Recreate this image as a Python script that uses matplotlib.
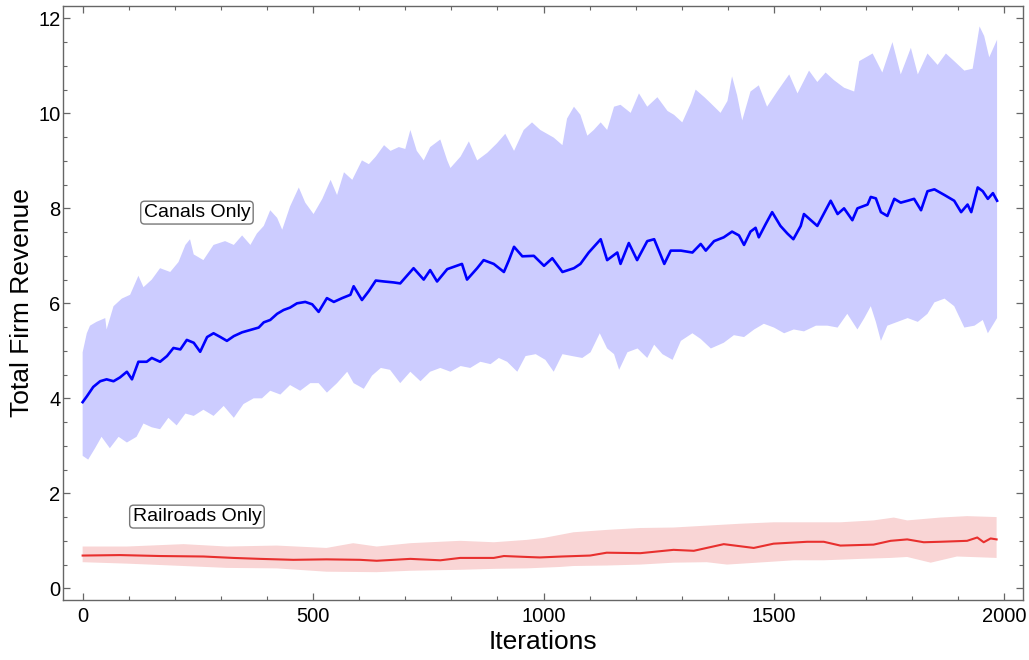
import numpy as np
import matplotlib
matplotlib.use("Agg")
import matplotlib.pyplot as plt
from matplotlib.ticker import MultipleLocator

# ---------------- data ----------------
canal_mean_x = [0, 9, 23, 38, 52, 67, 81, 96, 107, 121, 139, 150, 168, 183, 197, 212, 226, 241, 255, 270,
                284, 299, 313, 328, 346, 364, 382, 393, 407, 422, 436, 450, 465, 483, 498, 512, 530, 545, 563, 581,
                588, 606, 621, 636, 654, 675, 689, 718, 740, 754, 769, 791, 823, 834, 856, 870, 892, 914, 925, 936,
                954, 979, 1001, 1019, 1041, 1066, 1080, 1098, 1124, 1138, 1160, 1167, 1185, 1203, 1225, 1240, 1262, 1276, 1298, 1323,
                1341, 1352, 1370, 1391, 1409, 1424, 1435, 1449, 1460, 1467, 1482, 1496, 1514, 1529, 1542, 1558, 1565, 1580, 1594, 1612,
                1623, 1638, 1652, 1670, 1681, 1703, 1710, 1721, 1732, 1746, 1761, 1775, 1790, 1804, 1819, 1833, 1848, 1870, 1891, 1906,
                1920, 1928, 1942, 1953, 1964, 1975, 1984]
canal_mean_y = [3.92, 4.04, 4.24, 4.36, 4.40, 4.36, 4.44, 4.56, 4.40, 4.77, 4.77, 4.85, 4.77, 4.89, 5.06, 5.03, 5.23, 5.17, 4.98, 5.29,
                5.37, 5.29, 5.21, 5.31, 5.39, 5.44, 5.49, 5.60, 5.65, 5.78, 5.86, 5.91, 6.00, 6.03, 5.98, 5.82, 6.11, 6.03, 6.11, 6.18,
                6.36, 6.07, 6.26, 6.48, 6.46, 6.44, 6.42, 6.74, 6.50, 6.70, 6.46, 6.72, 6.83, 6.50, 6.74, 6.91, 6.83, 6.66, 6.91, 7.19,
                6.99, 7.00, 6.79, 6.95, 6.66, 6.74, 6.83, 7.07, 7.35, 6.91, 7.07, 6.83, 7.27, 6.91, 7.31, 7.35, 6.83, 7.11, 7.11, 7.07,
                7.25, 7.11, 7.31, 7.39, 7.51, 7.43, 7.23, 7.51, 7.59, 7.39, 7.67, 7.92, 7.63, 7.47, 7.35, 7.63, 7.88, 7.75, 7.63, 7.96,
                8.16, 7.88, 8.00, 7.75, 8.00, 8.08, 8.24, 8.21, 7.92, 7.84, 8.20, 8.12, 8.16, 8.20, 7.96, 8.36, 8.40, 8.28, 8.16, 7.92,
                8.08, 7.92, 8.44, 8.36, 8.20, 8.32, 8.16]

canal_upper_x = [0, 9, 16, 30, 49, 52, 67, 85, 103, 121, 132, 150, 168, 190, 208, 223, 233, 241, 262, 284,
                 309, 328, 346, 364, 378, 393, 407, 422, 433, 450, 469, 483, 501, 520, 538, 552, 567, 585, 606, 621,
                 636, 654, 668, 686, 700, 711, 725, 740, 754, 776, 791, 798, 820, 838, 856, 878, 899, 917, 936, 957,
                 975, 993, 1022, 1041, 1051, 1066, 1080, 1095, 1109, 1124, 1138, 1153, 1167, 1189, 1207, 1225, 1247, 1269, 1283, 1301,
                 1320, 1330, 1349, 1362, 1384, 1399, 1409, 1420, 1431, 1449, 1467, 1485, 1507, 1533, 1551, 1576, 1594, 1612, 1630, 1652,
                 1674, 1685, 1714, 1735, 1757, 1775, 1797, 1812, 1833, 1855, 1873, 1891, 1913, 1931, 1946, 1956, 1967, 1984]
canal_upper_y = [4.97, 5.37, 5.53, 5.61, 5.69, 5.45, 5.94, 6.10, 6.18, 6.58, 6.34, 6.50, 6.74, 6.66, 6.87, 7.23, 7.35, 7.03, 6.91, 7.23,
                 7.31, 7.23, 7.43, 7.23, 7.47, 7.63, 7.96, 7.80, 7.55, 8.04, 8.44, 8.12, 7.88, 8.20, 8.60, 8.28, 8.76, 8.60, 9.01, 8.93,
                 9.09, 9.33, 9.21, 9.29, 9.25, 9.65, 9.21, 9.01, 9.29, 9.45, 9.01, 8.85, 9.09, 9.41, 9.01, 9.17, 9.37, 9.57, 9.21, 9.65,
                 9.81, 9.65, 9.49, 9.33, 9.89, 10.14, 9.97, 9.53, 9.65, 9.81, 9.65, 10.14, 10.18, 10.01, 10.42, 10.14, 10.34, 10.05, 9.97, 9.81,
                 10.22, 10.50, 10.34, 10.22, 10.01, 10.26, 10.78, 10.38, 9.85, 10.46, 10.59, 10.14, 10.46, 10.82, 10.42, 10.90, 10.66, 10.86, 10.70, 10.54,
                 10.46, 11.10, 11.26, 10.86, 11.50, 10.82, 11.38, 10.82, 11.26, 11.02, 11.26, 11.10, 10.90, 10.94, 11.83, 11.63, 11.18, 11.55]

canal_lower_x = [0, 12, 27, 41, 59, 78, 96, 117, 132, 150, 168, 186, 204, 223, 241, 262, 284, 306, 328, 349,
                 371, 389, 407, 429, 450, 472, 494, 512, 530, 552, 574, 588, 610, 628, 647, 667, 689, 711, 733, 754,
                 776, 798, 820, 841, 863, 885, 903, 921, 943, 961, 983, 1004, 1022, 1041, 1062, 1084, 1102, 1122, 1138, 1153,
                 1164, 1182, 1204, 1225, 1240, 1258, 1280, 1298, 1323, 1341, 1363, 1391, 1413, 1435, 1457, 1478, 1500, 1522, 1543, 1565,
                 1591, 1616, 1638, 1659, 1681, 1696, 1710, 1721, 1732, 1746, 1768, 1790, 1812, 1833, 1848, 1870, 1891, 1913, 1935, 1953,
                 1964, 1984]
canal_lower_y = [2.79, 2.71, 2.95, 3.19, 2.95, 3.19, 3.07, 3.19, 3.47, 3.39, 3.35, 3.59, 3.43, 3.68, 3.63, 3.76, 3.63, 3.84, 3.59, 3.88,
                 4.00, 4.00, 4.16, 4.08, 4.28, 4.16, 4.32, 4.32, 4.12, 4.32, 4.56, 4.32, 4.20, 4.48, 4.64, 4.60, 4.32, 4.56, 4.36, 4.56,
                 4.64, 4.56, 4.68, 4.64, 4.77, 4.72, 4.85, 4.77, 4.56, 4.89, 4.93, 4.81, 4.56, 4.93, 4.89, 4.85, 4.97, 5.37, 5.05, 4.93,
                 4.60, 4.97, 5.05, 4.85, 5.13, 4.93, 4.81, 5.21, 5.37, 5.25, 5.05, 5.17, 5.33, 5.29, 5.45, 5.57, 5.49, 5.37, 5.45, 5.41,
                 5.53, 5.53, 5.49, 5.78, 5.45, 5.69, 5.94, 5.61, 5.21, 5.53, 5.61, 5.69, 5.61, 5.78, 6.02, 6.10, 5.94, 5.49, 5.53, 5.65,
                 5.37, 5.69]

rail_mean_x = [0, 81, 168, 262, 327, 385, 457, 529, 602, 638, 711, 776, 819, 892, 914, 964, 992, 1040, 1101, 1137,
               1210, 1282, 1326, 1391, 1456, 1499, 1572, 1608, 1644, 1716, 1753, 1789, 1825, 1861, 1919, 1941, 1955, 1970, 1983]
rail_mean_y = [0.69, 0.70, 0.68, 0.67, 0.64, 0.62, 0.60, 0.61, 0.60, 0.58, 0.62, 0.59, 0.64, 0.64, 0.68, 0.66, 0.65, 0.67, 0.69, 0.75,
               0.74, 0.81, 0.79, 0.93, 0.85, 0.94, 0.98, 0.98, 0.90, 0.92, 1.00, 1.03, 0.97, 0.98, 1.00, 1.07, 0.97, 1.05, 1.03]

rail_upper_x = [0, 96, 219, 313, 421, 529, 587, 638, 711, 819, 892, 964, 1000, 1065, 1137, 1210, 1282, 1354, 1427, 1499,
                1572, 1644, 1716, 1760, 1789, 1861, 1919, 1983]
rail_upper_y = [0.88, 0.88, 0.93, 0.88, 0.90, 0.85, 0.95, 0.88, 0.95, 1.00, 0.97, 1.02, 1.06, 1.18, 1.23, 1.27, 1.28, 1.32, 1.36, 1.39,
                1.39, 1.39, 1.43, 1.49, 1.43, 1.49, 1.52, 1.50]

rail_lower_x = [0, 96, 219, 313, 421, 529, 638, 711, 819, 892, 964, 1036, 1065, 1137, 1210, 1282, 1354, 1398, 1463, 1543,
                1608, 1687, 1753, 1789, 1840, 1897, 1983]
rail_lower_y = [0.55, 0.52, 0.47, 0.43, 0.42, 0.35, 0.34, 0.37, 0.39, 0.41, 0.42, 0.45, 0.47, 0.48, 0.50, 0.54, 0.55, 0.50, 0.54, 0.59,
                0.59, 0.62, 0.64, 0.66, 0.54, 0.67, 0.64]

labels = ["Canals Only", "Railroads Only"]
label_x = [248, 248]
label_y = [7.91, 1.51]

x_label = "Iterations"
y_label = "Total Firm Revenue"
x_ticks = [0, 500, 1000, 1500, 2000]
y_ticks = [0, 2, 4, 6, 8, 10, 12]

# ---------------- drawing ----------------
plt.rcParams['font.family'] = ['Liberation Sans', 'DejaVu Sans']

fig = plt.figure(figsize=(10.29, 6.60), dpi=100)
ax = fig.add_axes([0.0615, 0.0909, 0.9330, 0.9000])

blue_line = "#0000FF"
blue_fill = "#CCCCFF"
red_line = "#E8302E"
red_fill = "#F9D5D5"

def band(ux, uy, lx, ly, color):
    xs = np.concatenate([np.asarray(ux, float), np.asarray(lx, float)[::-1]])
    ys = np.concatenate([np.asarray(uy, float), np.asarray(ly, float)[::-1]])
    ax.fill(xs, ys, color=color, linewidth=0, zorder=1)

band(canal_upper_x, canal_upper_y, canal_lower_x, canal_lower_y, blue_fill)
band(rail_upper_x, rail_upper_y, rail_lower_x, rail_lower_y, red_fill)

ax.plot(canal_mean_x, canal_mean_y, color=blue_line, lw=1.9, zorder=3)
ax.plot(rail_mean_x, rail_mean_y, color=red_line, lw=1.5, zorder=3)

for t, lx, ly in zip(labels, label_x, label_y):
    ax.text(lx, ly, t, fontsize=14, ha='center', va='center', zorder=5,
            bbox=dict(boxstyle='round,pad=0.15,rounding_size=0.2', fc='white', ec='#777777', lw=1.0))

ax.set_xlim(-42, 2041)
ax.set_ylim(-0.246, 12.26)

ax.set_xticks(x_ticks)
ax.set_yticks(y_ticks)
ax.xaxis.set_minor_locator(MultipleLocator(100))
ax.yaxis.set_minor_locator(MultipleLocator(0.5))

ax.tick_params(which='both', direction='in', top=True, right=True, color='#666666')
ax.tick_params(which='major', length=5, width=0.9)
ax.tick_params(which='minor', length=2.8, width=0.8)
ax.tick_params(axis='x', which='major', labelsize=14.5, pad=5)
ax.tick_params(axis='y', which='major', labelsize=14.5, pad=2)

for s in ax.spines.values():
    s.set_color('#666666')
    s.set_linewidth(1.0)

ax.set_xlabel(x_label, fontsize=19, labelpad=3)
ax.set_ylabel(y_label, fontsize=19, labelpad=3)

fig.savefig("out.png", dpi=100)
